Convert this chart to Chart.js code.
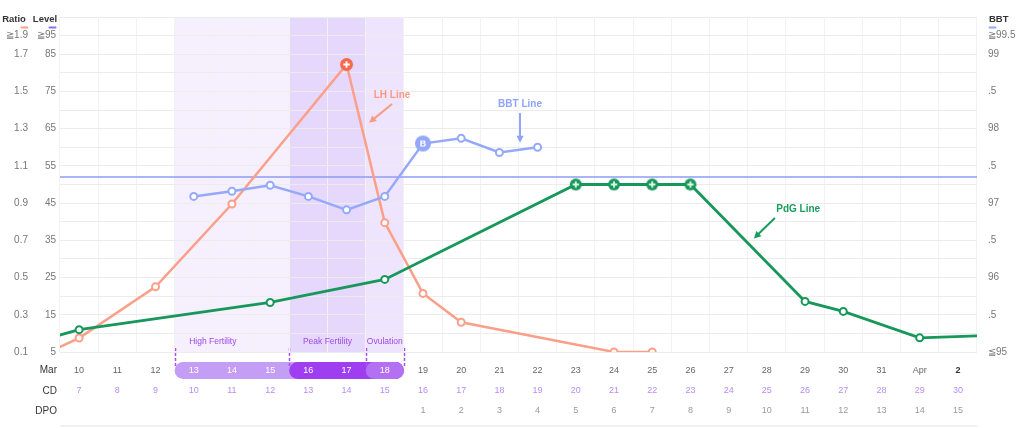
<!DOCTYPE html>
<html><head><meta charset="utf-8">
<script src="https://cdn.jsdelivr.net/npm/chart.js@4.4.1/dist/chart.umd.min.js"></script>
<style>html,body{margin:0;padding:0;background:#fff;}#wrap{width:1024px;height:428px;position:relative;}</style>
</head><body><div id="wrap"><canvas id="c"></canvas></div>
<script>
// Days Mar 9 .. Apr 3 (first and last lie just outside the visible window)
const dateLabels = ['9','10','11','12','13','14','15','16','17','18','19','20','21','22','23','24','25','26','27','28','29','30','31','Apr','2','3'];
const cdLabels = ['6','7','8','9','10','11','12','13','14','15','16','17','18','19','20','21','22','23','24','25','26','27','28','29','30','31'];
const dpoLabels = ['','','','','','','','','','','1','2','3','4','5','6','7','8','9','10','11','12','13','14','15','16'];
const lhRatio = [0.08,0.175,null,0.45,null,0.895,null,null,1.645,0.795,0.415,0.26,null,null,null,0.1,0.1,null,null,null,null,null,null,null,null,null];
const bbtTemp = [null,null,null,null,97.09,97.16,97.24,97.09,96.91,97.09,97.80,97.87,97.68,97.75,null,null,null,null,null,null,null,null,null,null,null,null];
const pdgLevel = [8.1,11.0,null,null,null,null,18.3,null,null,24.5,null,null,null,null,50,50,50,50,null,null,18.6,15.9,null,8.8,null,9.5];
const coverlineTemp = 97.35;
const ratioTickLabels = ['0.1','0.3','0.5','0.7','0.9','1.1','1.3','1.5','1.7','≧1.9'];
const levelTickLabels = ['5','15','25','35','45','55','65','75','85','≧95'];
const bbtTickLabels = ['≦95','.5','96','.5','97','.5','98','.5','99','≧99.5'];
const fertileWindows = [
  {label:'High Fertility', from:'13', to:'15'},
  {label:'Peak Fertility', from:'16', to:'17'},
  {label:'Ovulation', from:'18', to:'18'}
];
const rowHeaders = ['Mar','CD','DPO'];

Chart.defaults.font.family = "'Liberation Sans', Arial, sans-serif";

const FIRST = 1, LAST = 24, LH_HALF = 5.4;
const pts = arr => arr.map((v,i)=>({x:i,y:v}));
const lhPeakIdx = lhRatio.indexOf(Math.max(...lhRatio.filter(v=>v!==null)));
const pdgMax = Math.max(...pdgLevel.filter(v=>v!==null));
const bbtShiftIdx = bbtTemp.findIndex(v=>v!==null && v>coverlineTemp);

function badge(fill, r, glyph, glyphColor){
  const size = 2*r+2;
  const c = document.createElement('canvas'); c.width=c.height=size;
  const g = c.getContext('2d'); const m=size/2;
  g.beginPath(); g.arc(m,m,r,0,Math.PI*2); g.fillStyle=fill; g.fill();
  g.strokeStyle=glyphColor; g.fillStyle=glyphColor;
  if (glyph==='+'){ g.lineWidth=1.8; g.beginPath(); g.moveTo(m-3.2,m); g.lineTo(m+3.2,m); g.moveTo(m,m-3.2); g.lineTo(m,m+3.2); g.stroke(); }
  else { g.font="bold 9px 'Liberation Sans', Arial"; g.textAlign='center'; g.textBaseline='middle'; g.fillText(glyph,m,m+0.5); }
  return c;
}
const lhBadge = badge('#f4694c',6.5,'+','#fff');
const pdgBadge = badge('#17985a',6,'+','#e3f7ea');
const bbtBadge = badge('#94a8fb',8,'B','#fff');

const xIdx = lbl => dateLabels.indexOf(lbl);
const pillStart = xIdx('13'), pillEnd = xIdx('18');

function xAxis(labels, weight, pad, height, opts){
  return Object.assign({
    type:'linear', position:'bottom', weight, min:FIRST-0.5, max:LAST+0.5,
    afterBuildTicks: s => { s.ticks=[]; for(let i=FIRST;i<=LAST;i++) s.ticks.push({value:i}); },
    ticks:{autoSkip:false, maxRotation:0, padding:pad, font:{size:9}, color:'#666', callback:v=>labels[v] ?? ''},
    grid:{display:false, drawTicks:false}, border:{display:false},
    afterFit: s => { s.height = height; }
  }, opts||{});
}
function yAxis(pos, weight, min, step, labels, width, pad, grid){
  return {
    type:'linear', position:pos, weight, min, max:min+18*step,
    afterBuildTicks: s => { s.ticks=[]; for(let k=0;k<=18;k++) s.ticks.push({value:min+k*step}); },
    ticks:{autoSkip:false, padding:pad, font:{size:10}, color:'#777',
      callback:(v,k)=> k===17 ? labels[9] : (k%2===0 && k<18 ? labels[k/2] : '')},
    grid: grid ? {color:'#ececec', drawTicks:false} : {display:false, drawTicks:false},
    border:{display:false},
    afterFit: s => { s.width = width; }
  };
}

const dateAxis = xAxis(dateLabels, 0, 13.1, 26, {
  grid:{display:true, offset:true, color:'#f2f2f2', drawTicks:false}
});
dateAxis.ticks.color = ctx => {
  const v = ctx.tick ? ctx.tick.value : -1;
  if (v>=pillStart && v<=pillEnd) return '#ffffff';
  return v===LAST ? '#333' : '#666';
};
dateAxis.ticks.font = ctx => (ctx.tick && ctx.tick.value===LAST) ? {size:9, weight:'bold'} : {size:9};

const cdAxis = xAxis(cdLabels, 1, 7.6, 20); cdAxis.ticks.color = '#b98cf6';
const dpoAxis = xAxis(dpoLabels, 2, 7.6, 20); dpoAxis.ticks.color = '#9a9a9a';

const callouts = [
  {text:'LH Line', color:'#f99a85', axis:'ratio', at:[9.19,1.48], from:[9.19,1.433], to:[8.59,1.332]},
  {text:'BBT Line', color:'#8fa4fa', axis:'bbt', at:[12.54,98.33], from:[12.54,98.21], to:[12.54,97.81]},
  {text:'PdG Line', color:'#199c5b', axis:'level', at:[19.82,43.3], from:[19.21,41.0], to:[18.66,35.5]}
];

function arrow(ctx,x1,y1,x2,y2,color){
  const a=Math.atan2(y2-y1,x2-x1), hl=7, hw=3.6;
  ctx.strokeStyle=color; ctx.fillStyle=color; ctx.lineWidth=2;
  ctx.beginPath(); ctx.moveTo(x1,y1); ctx.lineTo(x2-hl*0.7*Math.cos(a), y2-hl*0.7*Math.sin(a)); ctx.stroke();
  const bx=x2-hl*Math.cos(a), by=y2-hl*Math.sin(a);
  ctx.beginPath(); ctx.moveTo(x2,y2); ctx.lineTo(bx+hw*Math.sin(a), by-hw*Math.cos(a)); ctx.lineTo(bx-hw*Math.sin(a), by+hw*Math.cos(a)); ctx.closePath(); ctx.fill();
}
function rrect(ctx,x,y,w,h,r){
  ctx.beginPath(); ctx.moveTo(x+r,y); ctx.lineTo(x+w-r,y); ctx.arc(x+w-r,y+r,r,-Math.PI/2,Math.PI/2); ctx.lineTo(x+r,y+h); ctx.arc(x+r,y+r,r,Math.PI/2,Math.PI*1.5); ctx.closePath();
}
const rowY = s => s.top + s.options.ticks.padding + LH_HALF;

const bandColors = ['#f6effe','#e6d7fc','#efe4fd'];
const pillColors = ['#c49df5','#9f3ef1','#b370f2'];

const decor = {
  id:'decor',
  beforeDraw(chart){
    const {ctx, chartArea:ca, scales} = chart; const xs = scales.x;
    ctx.save();
    fertileWindows.forEach((w,i)=>{
      const x1 = xs.getPixelForValue(xIdx(w.from)-0.5), x2 = xs.getPixelForValue(xIdx(w.to)+0.5);
      ctx.fillStyle = bandColors[i]; ctx.fillRect(x1, ca.top, x2-x1, ca.bottom-ca.top);
    });
    const ph = 17, py = rowY(xs) - ph/2;
    const xEnd = xs.getPixelForValue(xIdx(fertileWindows[2].to)+0.5);
    fertileWindows.forEach((w,i)=>{
      const x1 = xs.getPixelForValue(xIdx(w.from)-0.5);
      ctx.fillStyle = pillColors[i]; rrect(ctx, x1, py, xEnd-x1, ph, ph/2); ctx.fill();
    });
    ctx.strokeStyle='#a64df5'; ctx.lineWidth=1.5; ctx.setLineDash([3,2]);
    const xsSep = fertileWindows.map(w=>xs.getPixelForValue(xIdx(w.from)-0.5)).concat([xEnd]);
    xsSep.forEach(x=>{ const px=Math.round(x)+0.5; ctx.beginPath(); ctx.moveTo(px, ca.bottom-4); ctx.lineTo(px, py+4); ctx.stroke(); });
    ctx.setLineDash([]);
    ctx.restore();
  },
  beforeDatasetsDraw(chart){
    const {ctx, chartArea:ca, scales} = chart; const xs = scales.x;
    ctx.save();
    ctx.font = "8.5px 'Liberation Sans', Arial"; ctx.fillStyle='#9b4ae6'; ctx.textAlign='center'; ctx.textBaseline='middle';
    fertileWindows.forEach((w,i)=>{
      let cx;
      if (i===0) cx = xs.getPixelForValue(xIdx(w.from)+0.5);
      else cx = (xs.getPixelForValue(xIdx(w.from)-0.5)+xs.getPixelForValue(xIdx(w.to)+0.5))/2;
      ctx.fillText(w.label, cx, ca.bottom-10.5);
    });
    ctx.restore();
  },
  afterDraw(chart){
    const {ctx, chartArea:ca, scales} = chart; const xs = scales.x;
    ctx.save();
    callouts.forEach(c=>{
      const ys = scales[c.axis];
      ctx.font = "bold 10px 'Liberation Sans', Arial"; ctx.fillStyle=c.color; ctx.textAlign='center'; ctx.textBaseline='middle';
      ctx.fillText(c.text, xs.getPixelForValue(c.at[0]), ys.getPixelForValue(c.at[1]));
      arrow(ctx, xs.getPixelForValue(c.from[0]), ys.getPixelForValue(c.from[1]), xs.getPixelForValue(c.to[0]), ys.getPixelForValue(c.to[1]), c.color);
    });
    ctx.font = "bold 9.5px 'Liberation Sans', Arial"; ctx.fillStyle='#333'; ctx.textBaseline='middle';
    ctx.textAlign='center'; ctx.fillText('Ratio', 14, 19); ctx.fillText('Level', 45, 19);
    ctx.textAlign='left'; ctx.fillText('BBT', 989, 19);
    const bar=(x,c)=>{ ctx.fillStyle=c; rrect(ctx,x,26.5,8,2,1); ctx.fill(); };
    bar(20.5,'#f9a08b'); bar(48.5,'#8b6cf2'); bar(988.5,'#94a8fb');
    ctx.font = "10px 'Liberation Sans', Arial"; ctx.fillStyle='#333'; ctx.textAlign='right';
    ['x','cd','dpo'].forEach((id,i)=>{ ctx.fillText(rowHeaders[i], 57, rowY(scales[id])); });
    ctx.fillStyle='#f1f1f1'; ctx.fillRect(ca.left, 425, ca.right-ca.left, 2);
    ctx.restore();
  }
};

new Chart(document.getElementById('c'), {
  type:'line',
  data:{ datasets:[
    {label:'PdG', data:pts(pdgLevel), yAxisID:'level', order:0, borderColor:'#17985a', borderWidth:2.8,
      pointStyle: ctx => pdgLevel[ctx.dataIndex]===pdgMax ? pdgBadge : 'circle',
      pointRadius:3.5, pointBorderWidth:2, pointBackgroundColor:'#fff', pointBorderColor:'#17985a'},
    {label:'BBT', data:pts(bbtTemp), yAxisID:'bbt', order:1, borderColor:'#95a9fb', borderWidth:2.5,
      pointStyle: ctx => ctx.dataIndex===bbtShiftIdx ? bbtBadge : 'circle',
      pointRadius:3.5, pointBorderWidth:2, pointBackgroundColor:'#fff', pointBorderColor:'#95a9fb'},
    {label:'LH', data:pts(lhRatio), yAxisID:'ratio', order:2, borderColor:'#fb9f89', borderWidth:2.5,
      pointStyle: ctx => ctx.dataIndex===lhPeakIdx ? lhBadge : 'circle',
      pointRadius:3.5, pointBorderWidth:2, pointBackgroundColor:'#fff', pointBorderColor:'#fb9f89'},
    {label:'Coverline', data:pts(dateLabels.map(()=>coverlineTemp)), yAxisID:'bbt', order:3, borderColor:'#8e9cf3', borderWidth:1.5, pointRadius:0}
  ]},
  options:{
    responsive:true, maintainAspectRatio:false, animation:false,
    spanGaps:true,
    elements:{line:{tension:0}},
    layout:{padding:{top:15, bottom:10, left:0, right:0}},
    plugins:{legend:{display:false}, tooltip:{enabled:false}},
    scales:{
      x: dateAxis, cd: cdAxis, dpo: dpoAxis,
      level: yAxis('left', 0, 5, 5, levelTickLabels, 28, 4, false),
      ratio: yAxis('left', 1, 0.1, 0.1, ratioTickLabels, 32, 4, true),
      bbt: yAxis('right', 0, 95, 0.25, bbtTickLabels, 47, 11, false)
    }
  },
  plugins:[decor]
});
</script></body></html>
